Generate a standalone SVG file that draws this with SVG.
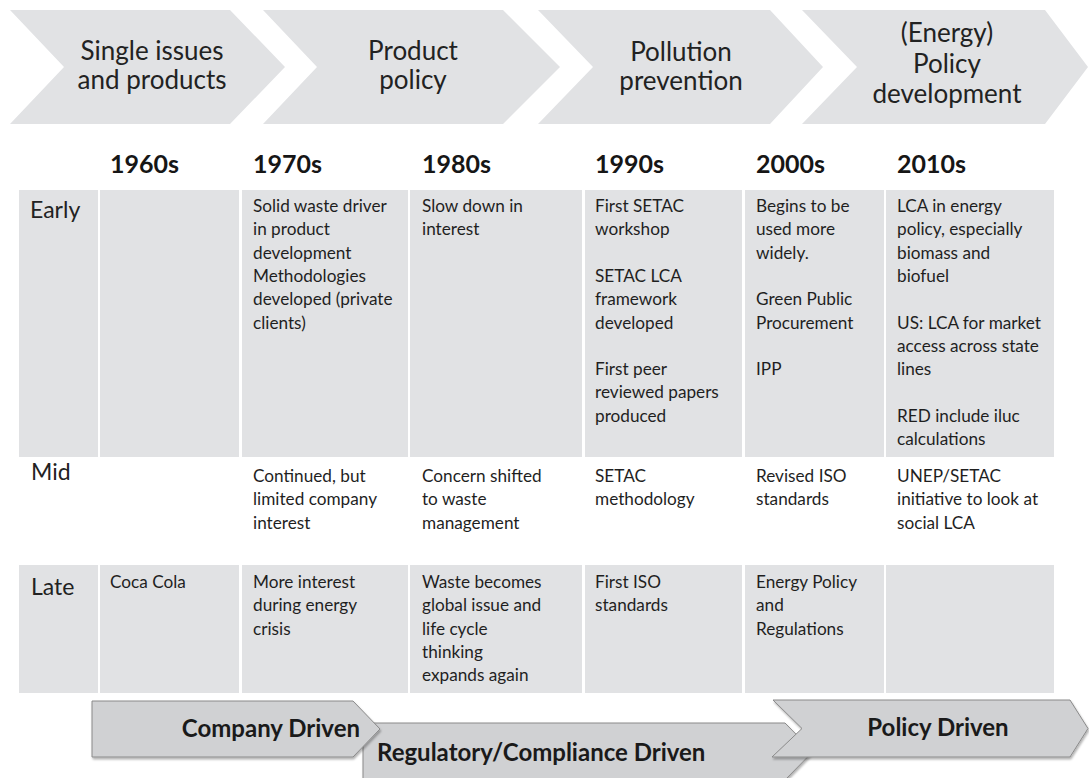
<svg xmlns="http://www.w3.org/2000/svg" width="1089" height="778" viewBox="0 0 1089 778">
<defs>
<style>
.chev{fill:#e1e2e4}
.ct{font-family:Lato,"Open Sans",sans-serif;font-size:26px;fill:#222222;text-anchor:middle}
.yr{font-family:Lato,"Open Sans",sans-serif;font-weight:bold;font-size:25px;fill:#161616}
.rl{font-family:Lato,"Open Sans",sans-serif;font-size:23px;fill:#222222}
.cell{fill:#e1e2e4}
.tx{font-family:Lato,"Open Sans",sans-serif;font-size:17.2px;fill:#1f1f1f}
.arr{fill:#d0d1d3;stroke:#8a8a8a;stroke-width:1}
.at{font-family:Lato,"Open Sans",sans-serif;font-weight:bold;font-size:24px;fill:#1a1a1a}
</style>
<filter id="sh" x="-5%" y="-20%" width="110%" height="150%">
<feDropShadow dx="1" dy="2" stdDeviation="1.2" flood-color="#000" flood-opacity="0.3"/>
</filter>
</defs>
<rect width="1089" height="778" fill="#ffffff"/>

<g id="phase1">
<polygon class="chev" points="10,10 230,10 285,67 230,124 10,124 64,67"/>
<text class="ct" x="152" y="60">Single issues</text>
<text class="ct" x="152" y="89">and products</text>
</g>
<g id="phase2">
<polygon class="chev" points="263,10 503,10 560,67 503,124 263,124 317,67"/>
<text class="ct" x="413" y="60">Product</text>
<text class="ct" x="413" y="89">policy</text>
</g>
<g id="phase3">
<polygon class="chev" points="538,10 770,10 823,67 770,124 538,124 593,67"/>
<text class="ct" x="681" y="61">Pollution</text>
<text class="ct" x="681" y="90">prevention</text>
</g>
<g id="phase4">
<polygon class="chev" points="802,10 1045,10 1088,67 1045,124 802,124 857,67"/>
<text class="ct" x="947" y="42">(Energy)</text>
<text class="ct" x="947" y="73">Policy</text>
<text class="ct" x="947" y="103">development</text>
</g>

<g id="years">
<text class="yr" x="110" y="173">1960s</text>
<text class="yr" x="253" y="173">1970s</text>
<text class="yr" x="422" y="173">1980s</text>
<text class="yr" x="595" y="173">1990s</text>
<text class="yr" x="756" y="173">2000s</text>
<text class="yr" x="897" y="173">2010s</text>
</g>

<g id="row-early">
<rect class="cell" x="19" y="190" width="79" height="267"/>
<rect class="cell" x="100" y="190" width="139" height="267"/>
<rect class="cell" x="242" y="190" width="166" height="267"/>
<rect class="cell" x="410" y="190" width="172" height="267"/>
<rect class="cell" x="585" y="190" width="157" height="267"/>
<rect class="cell" x="745" y="190" width="139" height="267"/>
<rect class="cell" x="886" y="190" width="168" height="267"/>
<text class="rl" x="30" y="218">Early</text>
<text class="tx" x="253" y="212">Solid waste driver</text>
<text class="tx" x="253" y="235.3">in product</text>
<text class="tx" x="253" y="258.6">development</text>
<text class="tx" x="253" y="281.9">Methodologies</text>
<text class="tx" x="253" y="305.2">developed (private</text>
<text class="tx" x="253" y="328.5">clients)</text>
<text class="tx" x="422" y="212">Slow down in</text>
<text class="tx" x="422" y="235.3">interest</text>
<text class="tx" x="595" y="212">First SETAC</text>
<text class="tx" x="595" y="235.3">workshop</text>
<text class="tx" x="595" y="281.9">SETAC LCA</text>
<text class="tx" x="595" y="305.2">framework</text>
<text class="tx" x="595" y="328.5">developed</text>
<text class="tx" x="595" y="375.1">First peer</text>
<text class="tx" x="595" y="398.4">reviewed papers</text>
<text class="tx" x="595" y="421.7">produced</text>
<text class="tx" x="756" y="212">Begins to be</text>
<text class="tx" x="756" y="235.3">used more</text>
<text class="tx" x="756" y="258.6">widely.</text>
<text class="tx" x="756" y="305.2">Green Public</text>
<text class="tx" x="756" y="328.5">Procurement</text>
<text class="tx" x="756" y="375.1">IPP</text>
<text class="tx" x="897" y="212">LCA in energy</text>
<text class="tx" x="897" y="235.3">policy, especially</text>
<text class="tx" x="897" y="258.6">biomass and</text>
<text class="tx" x="897" y="281.9">biofuel</text>
<text class="tx" x="897" y="328.5">US: LCA for market</text>
<text class="tx" x="897" y="351.8">access across state</text>
<text class="tx" x="897" y="375.1">lines</text>
<text class="tx" x="897" y="421.7">RED include iluc</text>
<text class="tx" x="897" y="445">calculations</text>
</g>

<g id="row-mid">
<text class="rl" x="31" y="480">Mid</text>
<text class="tx" x="253" y="482">Continued, but</text>
<text class="tx" x="253" y="505.3">limited company</text>
<text class="tx" x="253" y="528.6">interest</text>
<text class="tx" x="422" y="482">Concern shifted</text>
<text class="tx" x="422" y="505.3">to waste</text>
<text class="tx" x="422" y="528.6">management</text>
<text class="tx" x="595" y="482">SETAC</text>
<text class="tx" x="595" y="505.3">methodology</text>
<text class="tx" x="756" y="482">Revised ISO</text>
<text class="tx" x="756" y="505.3">standards</text>
<text class="tx" x="897" y="482">UNEP/SETAC</text>
<text class="tx" x="897" y="505.3">initiative to look at</text>
<text class="tx" x="897" y="528.6">social LCA</text>
</g>

<g id="row-late">
<rect class="cell" x="19" y="565" width="79" height="128"/>
<rect class="cell" x="100" y="565" width="139" height="128"/>
<rect class="cell" x="242" y="565" width="166" height="128"/>
<rect class="cell" x="410" y="565" width="172" height="128"/>
<rect class="cell" x="585" y="565" width="157" height="128"/>
<rect class="cell" x="745" y="565" width="139" height="128"/>
<rect class="cell" x="886" y="565" width="168" height="128"/>
<text class="rl" x="31" y="595">Late</text>
<text class="tx" x="110" y="588">Coca Cola</text>
<text class="tx" x="253" y="588">More interest</text>
<text class="tx" x="253" y="611.3">during energy</text>
<text class="tx" x="253" y="634.6">crisis</text>
<text class="tx" x="422" y="588">Waste becomes</text>
<text class="tx" x="422" y="611.3">global issue and</text>
<text class="tx" x="422" y="634.6">life cycle</text>
<text class="tx" x="422" y="657.9">thinking</text>
<text class="tx" x="422" y="681.2">expands again</text>
<text class="tx" x="595" y="588">First ISO</text>
<text class="tx" x="595" y="611.3">standards</text>
<text class="tx" x="756" y="588">Energy Policy</text>
<text class="tx" x="756" y="611.3">and</text>
<text class="tx" x="756" y="634.6">Regulations</text>
</g>

<g id="regulatory-driven">
<polygon class="arr" filter="url(#sh)" points="363,723 785,723 813,751.5 785,780 363,780"/>
<text class="at" x="377" y="761">Regulatory/Compliance Driven</text>
</g>
<g id="company-driven">
<polygon class="arr" filter="url(#sh)" points="92,701 353,701 380,729 353,757 92,757"/>
<text class="at" x="360" y="737" text-anchor="end">Company Driven</text>
</g>
<g id="policy-driven">
<polygon class="arr" filter="url(#sh)" points="773,700 1070,700 1088,728.5 1070,757 772,757 802,728.5"/>
<text class="at" x="938" y="736" text-anchor="middle">Policy Driven</text>
</g>
</svg>
